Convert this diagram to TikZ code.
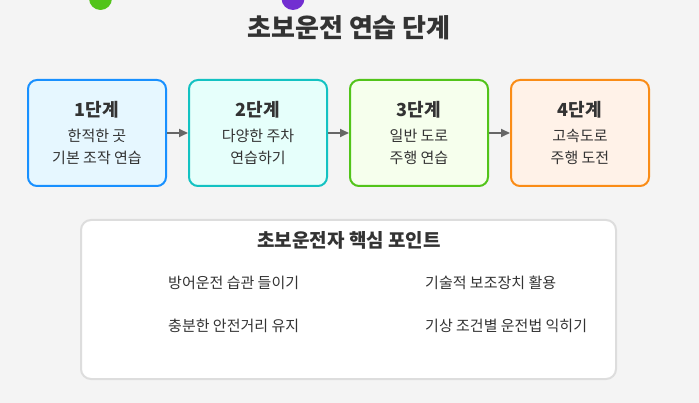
\documentclass[tikz,border=0pt]{standalone}
\usepackage{fontspec}
\setmainfont{Noto Sans CJK KR}
\usetikzlibrary{positioning,arrows.meta}
\definecolor{stepBg}{HTML}{F4F4F4}
\definecolor{stepText}{HTML}{333333}
\definecolor{stepArrow}{HTML}{666666}
\definecolor{stepBlue}{HTML}{1890FF}
\definecolor{stepBlueFill}{HTML}{E6F7FF}
\definecolor{stepCyan}{HTML}{13C2C2}
\definecolor{stepCyanFill}{HTML}{E6FFFB}
\definecolor{stepGreen}{HTML}{52C41A}
\definecolor{stepGreenFill}{HTML}{F6FFED}
\definecolor{stepOrange}{HTML}{FA8C16}
\definecolor{stepOrangeFill}{HTML}{FFF2E8}
\definecolor{stepPurple}{HTML}{722ED1}
\definecolor{stepBorder}{HTML}{DDDDDD}
\newcommand{\stageHeadFont}{\fontsize{18}{22}\selectfont\bfseries}
\tikzset{
    stageBox/.style={
        rectangle,
        draw=#1,
        fill=#1Fill,
        line width=2pt,
        rounded corners=9pt,
        minimum width=138pt,
        minimum height=106pt,
        align=center,
        text=stepText,
        font=\fontsize{15}{22}\selectfont
    },
    pointText/.style={anchor=west, text=stepText, font=\fontsize{15}{18}\selectfont, inner sep=0pt}
}

\begin{document}
\begin{tikzpicture}[
    x=1pt, y=-1pt,
    arr/.style={-{Triangle[length=9pt,width=8pt]}, line width=2pt, draw=stepArrow}
]
\useasboundingbox (0,0) rectangle (699,403);
\clip (0,0) rectangle (699,403);
\fill[stepBg] (0,0) rectangle (699,403);

% dots cut off at the top edge
\fill[stepGreen] (100.5,-1.5) circle (11.5pt);
\fill[stepPurple] (293,-1.5) circle (11.5pt);

\node[text=stepText, font=\fontsize{26}{30}\selectfont\bfseries] (title) at (349,28) {초보운전 연습 단계};

\node[stageBox=stepBlue] (s1) at (97,133) {{\stageHeadFont 1단계}\\[3pt]한적한 곳\\기본 조작 연습};
\node[stageBox=stepCyan, right=21pt of s1] (s2) {{\stageHeadFont 2단계}\\[3pt]다양한 주차\\연습하기};
\node[stageBox=stepGreen, right=21pt of s2] (s3) {{\stageHeadFont 3단계}\\[3pt]일반 도로\\주행 연습};
\node[stageBox=stepOrange, right=21pt of s3] (s4) {{\stageHeadFont 4단계}\\[3pt]고속도로\\주행 도전};

\draw[arr] (s1) -- (s2);
\draw[arr] (s2) -- (s3);
\draw[arr] (s3) -- (s4);

\node[draw=stepBorder, fill=white, line width=2pt, rounded corners=10pt,
      minimum width=535pt, minimum height=159pt] (points) at (348.5,299.5) {};
\node[text=stepText, font=\fontsize{19}{22}\selectfont\bfseries] (pointsTitle) at (349,240) {초보운전자 핵심 포인트};

\node[pointText] (p1) at (168,283) {방어운전 습관 들이기};
\node[pointText] (p2) at (168,326) {충분한 안전거리 유지};
\node[pointText] (p3) at (425,283) {기술적 보조장치 활용};
\node[pointText] (p4) at (425,326) {기상 조건별 운전법 익히기};
\end{tikzpicture}
\end{document}
